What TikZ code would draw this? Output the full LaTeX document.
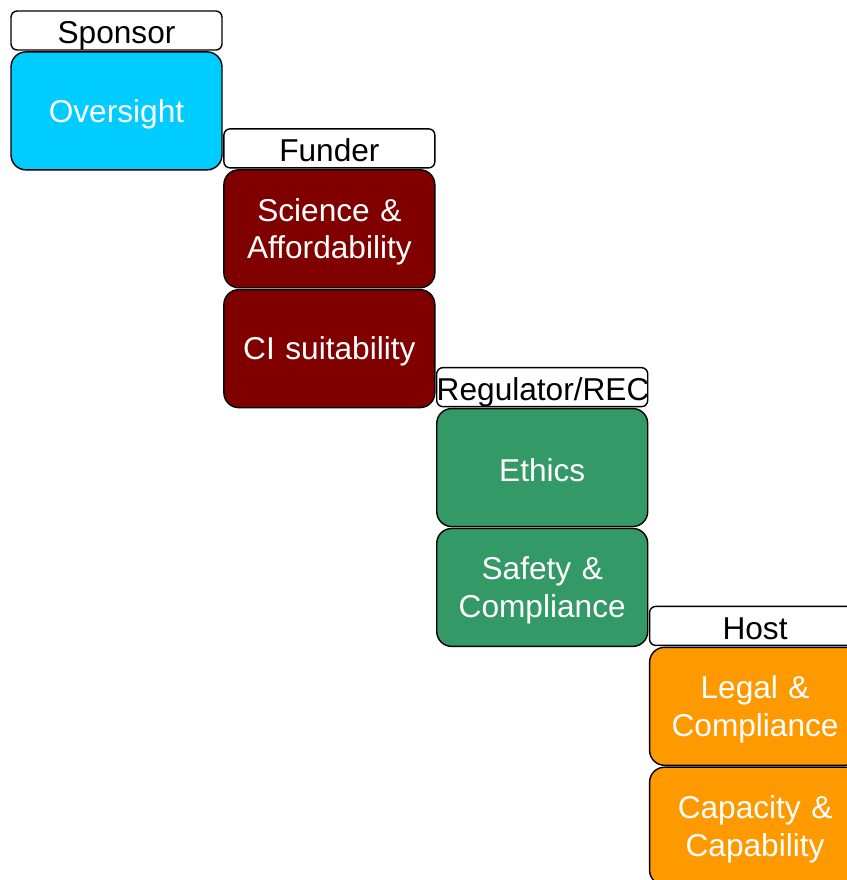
\documentclass[tikz,border=0pt]{standalone}
\usepackage{fontspec}
\setmainfont{Liberation Sans}
\usetikzlibrary{positioning}
\definecolor{oversightblue}{HTML}{00CCFF}
\definecolor{funderred}{HTML}{800000}
\definecolor{regulatorgreen}{HTML}{339966}
\definecolor{hostorange}{HTML}{FF9900}
\begin{document}
\begin{tikzpicture}[x=0.02cm,y=-0.02cm,
  font=\fontsize{18}{21.5}\selectfont,
  node distance=0.01cm,
  tag/.style={draw,fill=white,line width=0.8pt,rounded corners=3.5pt,
    text width=4.22cm,align=center,inner xsep=0pt,inner ysep=0pt,
    text height=15pt,text depth=0pt,minimum height=0.78cm},
  role/.style={draw,line width=0.8pt,rounded corners=8.5pt,text=white,
    text width=4.22cm,align=center,inner xsep=0pt,text height=16.5pt,
    minimum height=2.36cm}]
  \clip (0,0) rectangle (847,880);
  % sponsor
  \node[tag] (sponsor) at (116.5,30.5) {Sponsor};
  \node[role,fill=oversightblue,below=of sponsor] (oversight) {Oversight};
  % funder
  \node[tag,above right=0.04cm and 0.01cm of oversight.south east] (funder) {Funder};
  \node[role,fill=funderred,below=of funder] (science) {Science \&\\Affordability};
  \node[role,fill=funderred,below=of science] (ci) {CI suitability};
  % regulator
  \node[tag,above right=0.02cm and 0.01cm of ci.south east] (regulator) {Regulator/REC};
  \node[role,fill=regulatorgreen,below=of regulator] (ethics) {Ethics};
  \node[role,fill=regulatorgreen,below=of ethics] (safety) {Safety \&\\Compliance};
  % host
  \node[tag,above right=0.02cm and 0.01cm of safety.south east] (host) {Host};
  \node[role,fill=hostorange,below=of host] (legal) {Legal \&\\Compliance};
  \node[role,fill=hostorange,below=of legal] (capacity) {Capacity \&\\Capability};
\end{tikzpicture}
\end{document}
